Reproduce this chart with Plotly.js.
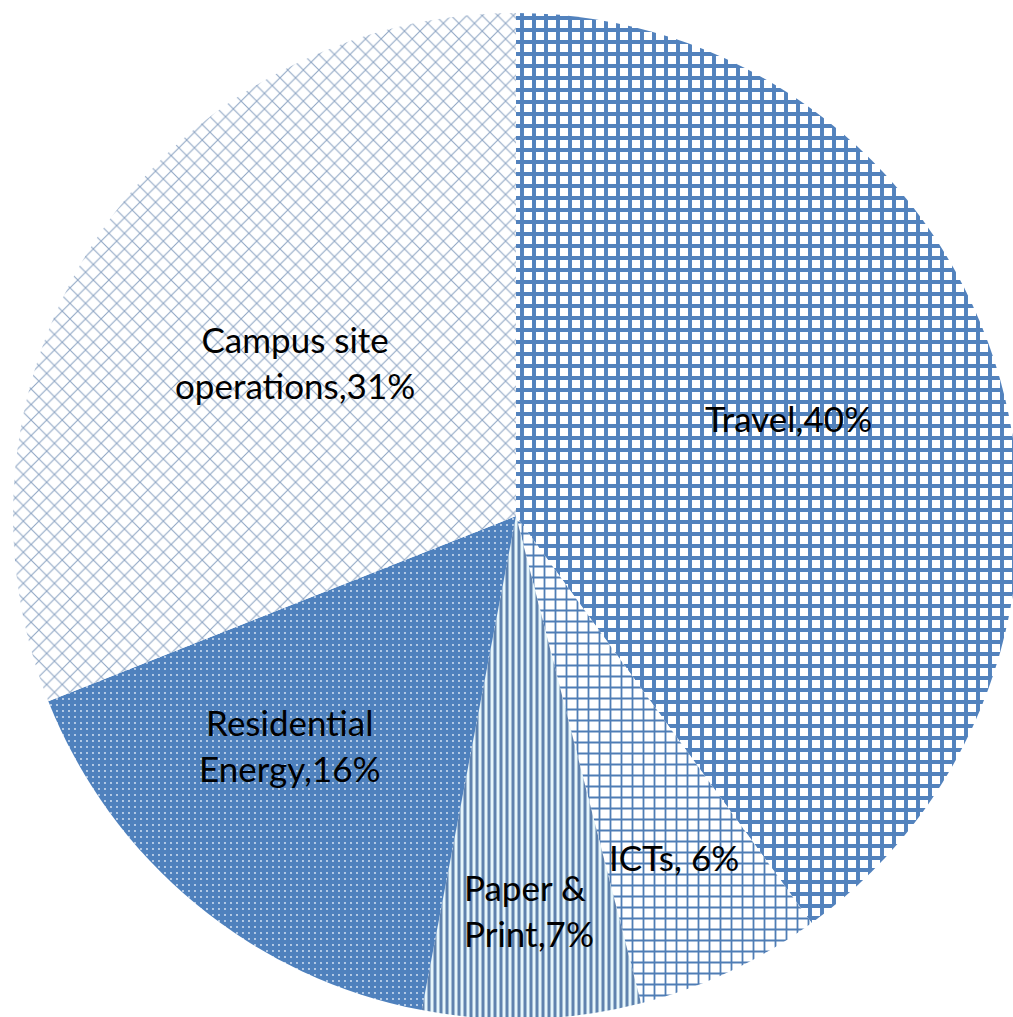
<!DOCTYPE html>
<html><head><meta charset="utf-8">
<script src="https://cdn.plot.ly/plotly-3.0.1.min.js"></script>
<style>html,body{margin:0;padding:0;overflow:hidden;background:#fff}#chart{width:1032px;height:1032px}</style>
</head><body><div id="chart"></div>
<script>
// Data
const categories = ['Travel', 'ICTs', 'Paper & Print', 'Residential Energy', 'Campus site operations'];
const values = [40, 6, 7, 16, 31];
const labelNames = ['Travel', 'ICTs', 'Paper &<br>Print', 'Residential<br>Energy', 'Campus site<br>operations'];
const labelSeps = [',', ', ', ',', ',', ','];

// Styles
const blue = '#4F81BD';
const patternShape = ['+', '+', '|', '.', 'x'];
const patternFg = ['#5282BD', '#4F7DB5', '#5F82AE', '#E2ECF8', '#8FA6C4'];
const patternBg = ['#FFFFFF', '#FFFFFF', '#E6F6FB', blue, '#FFFFFF'];
const patternSize = [12, 11, 6, 6, 11];
const patternSolidity = [0.55, 0.3, 0.5, 0.07, 0.18];

// Label positions in pixels of the 1032x1032 figure
const labelPx = [[788, 418], [674, 857], [462, 910], [290, 745], [295, 362]];
const labelAnchor = ['center', 'center', 'left', 'center', 'center'];

const W = 1032, H = 1032, cx = 516, cy = 516, R = 503;

const trace = {
  type: 'pie',
  labels: categories,
  values: values,
  sort: false,
  direction: 'clockwise',
  rotation: 0,
  textinfo: 'none',
  hoverinfo: 'label+percent',
  showlegend: false,
  domain: {x: [(cx - R) / W, (cx + R) / W], y: [(H - cy - R) / H, (H - cy + R) / H]},
  marker: {
    colors: patternBg,
    line: {width: 0},
    pattern: {
      shape: patternShape,
      fgcolor: patternFg,
      bgcolor: patternBg,
      size: patternSize,
      solidity: patternSolidity,
      fillmode: 'replace'
    }
  }
};

const annotations = categories.map((c, i) => ({
  xref: 'paper', yref: 'paper',
  x: labelPx[i][0] / W,
  y: 1 - labelPx[i][1] / H,
  xanchor: labelAnchor[i], yanchor: 'middle',
  align: labelAnchor[i],
  showarrow: false,
  text: labelNames[i] + labelSeps[i] + values[i] + '%',
  font: {family: 'Lato, sans-serif', size: 35, color: '#000000'}
}));

Plotly.newPlot('chart', [trace], {
  width: W, height: H,
  margin: {l: 0, r: 0, t: 0, b: 0},
  paper_bgcolor: '#FFFFFF',
  annotations: annotations
}, {displayModeBar: false, staticPlot: true});
</script>
</body></html>
